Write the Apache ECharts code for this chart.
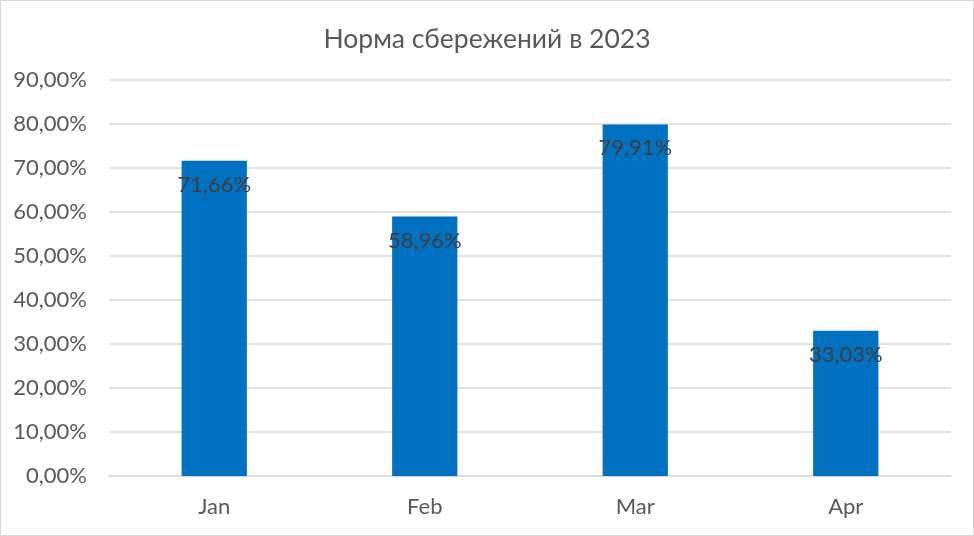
<!DOCTYPE html>
<html><head><meta charset="utf-8">
<script src="https://cdn.jsdelivr.net/npm/echarts@6/dist/echarts.min.js"></script>
<style>html,body{margin:0;padding:0;background:#fff}#c{width:974px;height:536px}</style>
</head><body><div id="c"></div>
<script>
const title = 'Норма сбережений в 2023';
const categories = ['Jan','Feb','Mar','Apr'];
const values = [71.66, 58.96, 79.91, 33.03];
const yMin = 0, yMax = 90, yStep = 10;

const fmt = v => v.toFixed(2).replace('.', ',') + '%';
const chart = echarts.init(document.getElementById('c'));
chart.setOption({
  backgroundColor: '#fff',
  animation: false,
  title: { text: title, left: 'center', top: 21,
    textStyle: { fontFamily: 'Lato', fontSize: 26.5, fontWeight: 'normal', color: '#595959' } },
  graphic: [{ type: 'rect', shape: { x: 0.5, y: 0.5, width: 973, height: 535 },
    style: { fill: 'none', stroke: '#d9d9d9', lineWidth: 1 }, silent: true }],
  grid: { left: 109, right: 23, top: 80, bottom: 60 },
  xAxis: { type: 'category', data: categories,
    axisLine: { lineStyle: { color: '#d9d9d9', width: 1.5 } }, axisTick: { show: false },
    axisLabel: { fontFamily: 'Lato', fontSize: 22, color: '#595959', margin: 20 } },
  yAxis: { type: 'value', min: yMin, max: yMax, interval: yStep,
    axisLine: { show: false }, axisTick: { show: false },
    splitLine: { lineStyle: { color: '#d9d9d9', width: 1.5 } },
    axisLabel: { fontFamily: 'Lato', fontSize: 22, color: '#595959', margin: 22, formatter: v => fmt(v) } },
  series: [{ type: 'bar', data: values, barWidth: '31%',
    itemStyle: { color: '#0070C0' },
    label: { show: true, position: 'insideTop', distance: 13, formatter: p => fmt(p.value),
      fontFamily: 'Lato', fontSize: 22, color: '#404040' } }]
});
</script></body></html>
